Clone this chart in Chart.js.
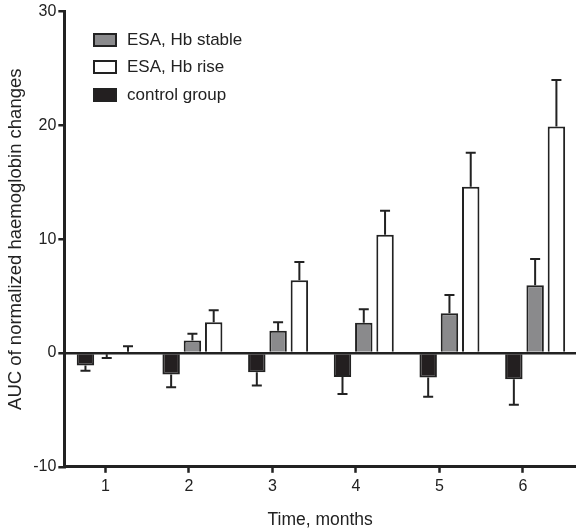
<!DOCTYPE html>
<html>
<head>
<meta charset="utf-8">
<script src="https://cdn.jsdelivr.net/npm/chart.js@4"></script>
<style>
  html, body { margin: 0; padding: 0; background: #fff; overflow: hidden; }
  #wrap { position: relative; width: 576px; height: 531px; }
  #legend { position: absolute; left: 93px; top: 26px; font: 17px "Liberation Sans", Arial, sans-serif; color: #222; }
  #legend .row { display: flex; align-items: center; height: 27.5px; }
  #legend .box { width: 20px; height: 10px; border: 2px solid #222; margin-right: 10px; }
</style>
</head>
<body>
<div id="wrap">
  <canvas id="auc" width="576" height="531"></canvas>
  <div id="legend"></div>
</div>
<script>
// AUC of normalized Hb changes per month, mean with one-sided error
const months = [1, 2, 3, 4, 5, 6];
const stable = [-0.1, 1.1, 1.95, 2.65, 3.5, 5.95];
const stableErr = [0.35, 0.6, 0.75, 1.2, 1.6, 2.3];
const rise = [0.1, 2.7, 6.4, 10.4, 14.6, 19.9];
const riseErr = [0.5, 1.05, 1.6, 2.1, 3.0, 4.1];
const control = [-1.1, -1.9, -1.7, -2.1, -2.15, -2.3];
const controlErr = [0.45, 1.1, 1.15, 1.5, 1.7, 2.25];
const yTicks = [-10, 0, 10, 20, 30];

const ink = '#222';
const font = { family: '"Liberation Sans", Arial, sans-serif' };

const series = [
  { label: 'control group', data: control, errors: controlErr, fill: '#231f20' },
  { label: 'ESA, Hb stable', data: stable, errors: stableErr, fill: '#8a8a8c' },
  { label: 'ESA, Hb rise', data: rise, errors: riseErr, fill: '#ffffff' }
];

// error whiskers pointing away from zero, with a short cap
const errorBars = {
  id: 'errorBars',
  afterDatasetsDraw(chart) {
    const ctx = chart.ctx;
    const y = chart.scales.y;
    ctx.save();
    ctx.strokeStyle = ink;
    ctx.lineWidth = 2;
    chart.data.datasets.forEach((ds, i) => {
      chart.getDatasetMeta(i).data.forEach((bar, j) => {
        const v = ds.data[j].y;
        const dir = v < 0 ? -1 : 1;
        const yEnd = y.getPixelForValue(v + dir * ds.errors[j]);
        ctx.beginPath();
        ctx.moveTo(bar.x, bar.y);
        ctx.lineTo(bar.x, yEnd);
        ctx.moveTo(bar.x - 5, yEnd);
        ctx.lineTo(bar.x + 5, yEnd);
        ctx.stroke();
      });
    });
    ctx.restore();
  }
};

new Chart(document.getElementById('auc'), {
  type: 'bar',
  data: {
    datasets: series.map(s => ({
      label: s.label,
      data: months.map((m, i) => ({ x: m, y: s.data[i] })),
      errors: s.errors,
      backgroundColor: s.fill,
      borderColor: ink,
      borderWidth: 2,
      xAxisID: 'xb',
      categoryPercentage: 0.745,
      barPercentage: 0.82
    }))
  },
  options: {
    responsive: false,
    animation: false,
    layout: { padding: { top: 11, right: 0, left: 1, bottom: -4 } },
    plugins: { legend: { display: false }, tooltip: { enabled: false } },
    scales: {
      // bars sit on their own axis, spaced a touch wider than the month ticks
      xb: { type: 'linear', display: false, offset: false, grid: { offset: false }, min: 0.505, max: 6.477 },
      x: {
        type: 'linear',
        offset: false,
        min: 0.507,
        max: 6.636,
        afterBuildTicks: s => { s.ticks = months.map(v => ({ value: v })); },
        border: { color: ink, width: 3 },
        grid: { offset: false, drawOnChartArea: false, tickLength: 6, tickColor: ink, tickWidth: 2.5 },
        ticks: { color: ink, font: { ...font, size: 16 }, padding: 4 },
        title: { display: true, text: 'Time, months', color: ink, font: { ...font, size: 17.5 }, padding: { top: 10 } }
      },
      y: {
        min: -10,
        max: 30,
        afterBuildTicks: s => { s.ticks = yTicks.map(v => ({ value: v })); },
        border: { color: ink, width: 3 },
        grid: {
          color: c => c.tick && c.tick.value === 0 ? ink : 'transparent',
          lineWidth: 2.5,
          tickLength: 6,
          tickColor: ink,
          tickWidth: 2.5
        },
        ticks: { color: ink, font: { ...font, size: 16 }, padding: 2 },
        title: { display: true, text: 'AUC of normalized haemoglobin changes', color: ink, font: { ...font, size: 18.5 }, padding: { bottom: 4 } }
      }
    }
  },
  plugins: [errorBars]
});

// legend: stable, rise, then control
const legend = document.getElementById('legend');
[series[1], series[2], series[0]].forEach(s => {
  const row = document.createElement('div');
  row.className = 'row';
  const box = document.createElement('span');
  box.className = 'box';
  box.style.background = s.fill;
  row.appendChild(box);
  row.appendChild(document.createTextNode(s.label));
  legend.appendChild(row);
});
</script>
</body>
</html>
